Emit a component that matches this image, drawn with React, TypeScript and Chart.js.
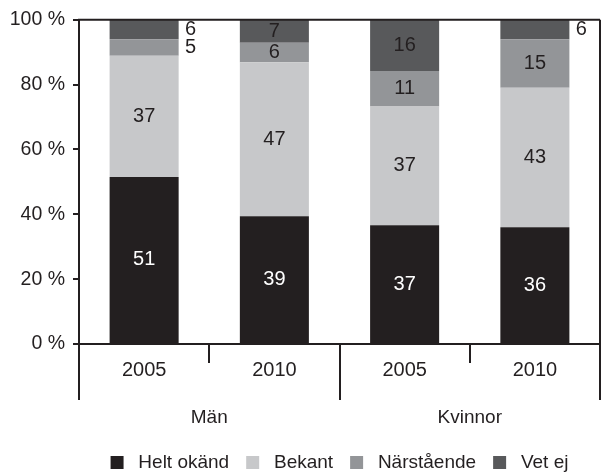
import React, { useEffect, useRef } from 'react';
import { Chart, registerables } from 'chart.js';

Chart.register(...registerables);

const categories = ['2005', '2010', '2005', '2010'];
const groups = ['Män', 'Kvinnor'];
const seriesNames = ['Helt okänd', 'Bekant', 'Närstående', 'Vet ej'];
const heltOkand = [51, 39, 37, 36];
const bekant = [37, 47, 37, 43];
const narstaende = [5, 6, 11, 15];
const vetEj = [6, 7, 16, 6];
const yTicks = [0, 20, 40, 60, 80, 100];
// labels placed beside the bar: [series index, category index]
const outsideLabels = [
  [2, 0],
  [3, 0],
  [3, 3],
];

const FONT = '"Liberation Sans", Arial, Helvetica, sans-serif';
const INK = '#231f20';
const colors = ['#231f20', '#c7c8ca', '#939598', '#58595b'];
const labelColors = ['#ffffff', '#231f20', '#231f20', '#231f20'];

const rawSeries = [heltOkand, bekant, narstaende, vetEj];
const totals = categories.map((_, i) => rawSeries.reduce((s, arr) => s + arr[i], 0));

const decorPlugin = {
  id: 'decor',
  afterDatasetsDraw(chart: any) {
    const { ctx } = chart;
    ctx.save();
    ctx.font = `20px ${FONT}`;
    ctx.textAlign = 'center';
    ctx.textBaseline = 'middle';
    chart.data.datasets.forEach((_ds: any, di: number) => {
      const meta = chart.getDatasetMeta(di);
      meta.data.forEach((bar: any, i: number) => {
        const { x, y, base, width } = bar.getProps(['x', 'y', 'base', 'width'], true);
        const outside = outsideLabels.some(([s, c]) => s === di && c === i);
        const cy = (y + base) / 2;
        ctx.fillStyle = outside ? INK : labelColors[di];
        ctx.fillText(String(rawSeries[di][i]), outside ? x + width / 2 + 12 : x, cy);
      });
    });
    ctx.restore();
  },
  afterDraw(chart: any) {
    const { ctx, chartArea } = chart;
    const xs = chart.scales.x;
    const bottom = chartArea.bottom;
    const longLen = 56;
    const shortLen = 19;
    ctx.save();
    ctx.strokeStyle = INK;
    ctx.lineWidth = 2;
    ctx.beginPath();
    // frame top and right
    ctx.moveTo(chartArea.left - 1, chartArea.top);
    ctx.lineTo(chartArea.right, chartArea.top);
    ctx.moveTo(chartArea.right, chartArea.top);
    ctx.lineTo(chartArea.right, bottom + longLen);
    // left long tick
    ctx.moveTo(chartArea.left, bottom);
    ctx.lineTo(chartArea.left, bottom + longLen);
    // separators between categories
    for (let i = 0; i < categories.length - 1; i++) {
      const px = (xs.getPixelForValue(i) + xs.getPixelForValue(i + 1)) / 2;
      const isGroupEdge = (i + 1) % 2 === 0;
      ctx.moveTo(Math.round(px), bottom);
      ctx.lineTo(Math.round(px), bottom + (isGroupEdge ? longLen : shortLen));
    }
    ctx.stroke();

    ctx.fillStyle = INK;
    ctx.font = `19px ${FONT}`;
    ctx.textAlign = 'center';
    ctx.textBaseline = 'middle';
    groups.forEach((g, gi) => {
      const cx = (xs.getPixelForValue(gi * 2) + xs.getPixelForValue(gi * 2 + 1)) / 2;
      ctx.fillText(g, cx, bottom + 74);
    });
    ctx.restore();
  },
};

export default function App() {
  const ref = useRef<HTMLCanvasElement | null>(null);

  useEffect(() => {
    if (!ref.current) return;
    const datasets = rawSeries.map((arr, si) => ({
      label: seriesNames[si],
      data: arr.map((v, i) => (v / totals[i]) * 100),
      backgroundColor: colors[si],
      borderWidth: 0,
      categoryPercentage: 1,
      barPercentage: 0.53,
    }));
    const defaultLabels = (Chart.defaults.plugins.legend.labels as any).generateLabels;
    const chart = new Chart(ref.current, {
      type: 'bar',
      data: { labels: categories, datasets },
      options: {
        responsive: false,
        animation: false,
        layout: { padding: { top: 14, right: 1, left: 0, bottom: -10 } },
        plugins: {
          legend: {
            position: 'bottom',
            fullSize: false,
            labels: {
              boxWidth: 13,
              boxHeight: 13,
              padding: 17,
              color: INK,
              font: { family: FONT, size: 19 },
              generateLabels: (c: any) =>
                defaultLabels(c).map((l: any) => ({ ...l, text: ' ' + l.text })),
            },
          },
          tooltip: { enabled: false },
        },
        scales: {
          x: {
            stacked: true,
            grid: { display: false, drawTicks: false },
            border: { color: INK, width: 2 },
            ticks: {
              color: INK,
              font: { family: FONT, size: 20 },
              padding: 14,
              autoSkip: false,
              maxRotation: 0,
            },
            afterFit: (s: any) => {
              s.height = 92;
            },
          },
          y: {
            stacked: true,
            min: 0,
            max: 100,
            afterBuildTicks: (s: any) => {
              s.ticks = yTicks.map((v) => ({ value: v }));
            },
            ticks: {
              callback: (v: any) => `${v} %`,
              color: INK,
              font: { family: FONT, size: 19.5 },
              padding: 8,
            },
            grid: { drawOnChartArea: false, color: INK, lineWidth: 2, tickLength: 6 },
            border: { color: INK, width: 2 },
            afterFit: (s: any) => {
              s.width = 79;
            },
          },
        },
      },
      plugins: [decorPlugin],
    } as any);
    return () => chart.destroy();
  }, []);

  return (
    <div style={{ position: 'absolute', left: 0, top: 0, width: 601, height: 472, background: '#fff' }}>
      <canvas ref={ref} width={601} height={472} />
    </div>
  );
}
